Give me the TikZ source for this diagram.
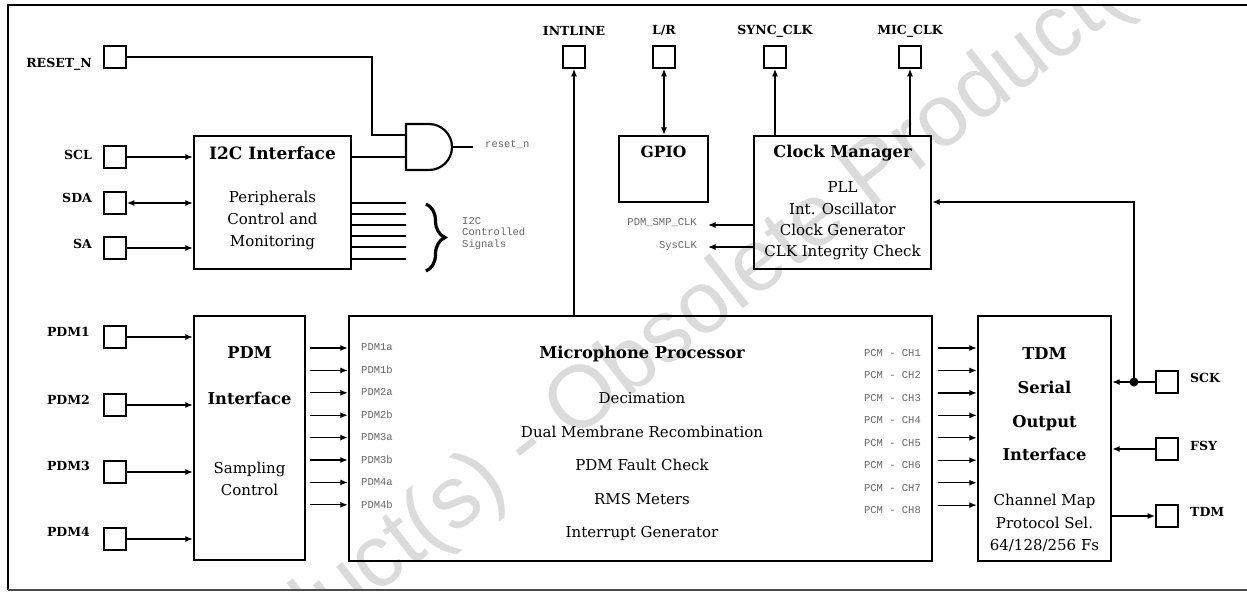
\documentclass[tikz,border=0pt]{standalone}
\usepackage{fontspec}
\setmainfont{DejaVu Serif}
\setmonofont{Liberation Mono}
\setsansfont{Liberation Sans}
\usetikzlibrary{arrows.meta,decorations.pathreplacing}
\newcommand\myfs[2]{\fontsize{#1}{#2}\selectfont}
\begin{document}
\begin{tikzpicture}[x=1pt,y=-1pt,
  box/.style={draw,line width=2.4pt,inner sep=0pt},
  pin/.style={draw,line width=2.2pt,minimum size=21.5pt,inner sep=0pt},
  conn/.style={line width=1.3pt},
  arr/.style={conn,-{Latex[length=7.5pt,width=6pt]}},
  darr/.style={conn,{Latex[length=7.5pt,width=6pt]}-{Latex[length=7.5pt,width=6pt]}},
  plab/.style={font=\bfseries\myfs{12.5}{14}, inner sep=0pt},
  ttl/.style={font=\bfseries\myfs{16.3}{19}, inner sep=0pt},
  bdy/.style={inner sep=0pt, align=center},
  mono/.style={font=\ttfamily\myfs{10.5}{11.5}, text=black!60, inner sep=0pt},
]
\useasboundingbox (0,0) rectangle (1247,592);
% watermark
\begin{scope}
\clip (8,5) rectangle (1247,590);
\node[rotate=38, text=black!14, font=\sffamily\myfs{88}{90}, inner sep=0pt] (wm) at (676,332) {Product(s) - Obsolete Product(s)};
\end{scope}
% frame
\draw[line width=2.6pt] (1250,5) -- (8,5) -- (8,590);
\draw[line width=1.8pt, black!70] (8,590) -- (1250,590);

% boxes
\node[box, minimum width=157, minimum height=133] (i2c) at (272.5,202.5) {};
\node[box, minimum width=89, minimum height=66] (gpio) at (663.5,169) {};
\node[box, minimum width=177, minimum height=133] (clk) at (842.5,202.5) {};
\node[box, minimum width=111, minimum height=244] (pdmif) at (249.5,438) {};
\node[box, minimum width=583, minimum height=245] (mic) at (640.5,438.5) {};
\node[box, minimum width=133, minimum height=245] (tdmif) at (1044.5,438.5) {};

% box texts
\node[ttl, font=\bfseries\myfs{17}{19}] (i2ct) at (272.5,153) {I2C Interface};
\node[bdy, font=\myfs{15}{22}] (i2cb) at (272.5,220) {Peripherals\\Control and\\Monitoring};
\node[ttl, font=\bfseries\myfs{15.5}{19}] (gpiot) at (663.5,152) {GPIO};
\node[ttl] (clkt) at (842.5,153) {Clock Manager};
\node[bdy, font=\myfs{15}{21.3}] (clkb) at (842.5,221) {PLL\\Int. Oscillator\\Clock Generator\\CLK Integrity Check};
\node[bdy, font=\bfseries\myfs{16.3}{46}] (pdmt) at (249.5,376) {PDM\\Interface};
\node[bdy, font=\myfs{15}{22}] (pdmb) at (249.5,479) {Sampling\\Control};
\node[ttl] (mict) at (642,354) {Microphone Processor};
\node[bdy, font=\myfs{15}{33.5}] (micb) at (642,467) {Decimation\\Dual Membrane Recombination\\PDM Fault Check\\RMS Meters\\Interrupt Generator};
\node[bdy, font=\bfseries\myfs{16.3}{33.7}] (tdmt) at (1044.5,404.5) {TDM\\Serial\\Output\\Interface};
\node[bdy, font=\myfs{15}{22.5}] (tdmb) at (1044.5,523) {Channel Map\\Protocol Sel.\\64/128/256 Fs};

% pins
\node[pin] (reset) at (115,57) {};
\node[pin] (scl) at (115,157) {};
\node[pin] (sda) at (115,203) {};
\node[pin] (sa) at (115,248) {};
\node[pin] (p1) at (115,337) {};
\node[pin] (p2) at (115,405) {};
\node[pin] (p3) at (115,472) {};
\node[pin] (p4) at (115,539) {};
\node[pin] (intline) at (574,57) {};
\node[pin] (lr) at (664,57) {};
\node[pin] (sync) at (775,57) {};
\node[pin] (micclk) at (910,57) {};
\node[pin] (sck) at (1167,382) {};
\node[pin] (fsy) at (1167,449) {};
\node[pin] (tdm) at (1167,516) {};

% pin labels
\node[plab, anchor=east] (resetl) at (92,64) {RESET\_N};
\node[plab, anchor=east] (scll) at (92,155) {SCL};
\node[plab, anchor=east] (sdal) at (92,198) {SDA};
\node[plab, anchor=east] (sal) at (92,244) {SA};
\node[plab, anchor=east] (p1l) at (90,332) {PDM1};
\node[plab, anchor=east] (p2l) at (90,400) {PDM2};
\node[plab, anchor=east] (p3l) at (90,466) {PDM3};
\node[plab, anchor=east] (p4l) at (90,532) {PDM4};
\node[plab] (intlinel) at (574,31) {INTLINE};
\node[plab] (lrl) at (664,31) {L/R};
\node[plab] (syncl) at (775,31) {SYNC\_CLK};
\node[plab] (micclkl) at (910,31) {MIC\_CLK};
\node[plab, anchor=west] (sckl) at (1190,378) {SCK};
\node[plab, anchor=west] (fsyl) at (1190,446) {FSY};
\node[plab, anchor=west] (tdml) at (1190,512) {TDM};

% I2C inputs
\draw[arr] (scl.east) -- (i2c.west |- scl);
\draw[darr] (sda.east) -- (i2c.west |- sda);
\draw[arr] (sa.east) -- (i2c.west |- sa);

% AND gate
\coordinate (gin1) at (406,135);
\coordinate (gin2) at (406,157);
\coordinate (gout) at (452,147);
\coordinate (gend) at (473,147);
\draw[line width=2.2pt] (406,124) -- (429,124) .. controls (441.7,124) and (452,134.3) .. (452,147) .. controls (452,159.7) and (441.7,170) .. (429,170) -- (406,170) -- cycle;
\draw[conn] (reset.east) -| (372,135) -- (gin1);
\draw[conn] (i2c.east |- gin2) -- (gin2);
\draw[conn] (gout) -- (gend);
\node[mono, anchor=west] (resetn) at (485,145) {reset\_n};

% I2C controlled signals
\foreach \y [count=\i] in {203,214,225,236,247,259} {
  \coordinate (s\i) at (406,\y);
  \draw[conn] (i2c.east |- s\i) -- (s\i);
}
\draw[decorate, decoration={brace, amplitude=19pt, aspect=0.5}, line width=3.2pt] (426,204) -- (426,271);
\node[mono, anchor=west, align=left] (i2cs) at (462,233.5) {I2C\\Controlled\\Signals};

% top pins
\draw[arr] (mic.north -| intline) -- (intline.south);
\draw[darr] (gpio.north -| lr) -- (lr.south);
\draw[arr] (clk.north -| sync) -- (sync.south);
\draw[arr] (clk.north -| micclk) -- (micclk.south);

% clock outputs
\coordinate (ck1) at (708,225);
\coordinate (ck2) at (708,247);
\draw[arr] (clk.west |- ck1) -- (ck1);
\draw[arr] (clk.west |- ck2) -- (ck2);
\node[mono, anchor=east] (ck1l) at (697,223) {PDM\_SMP\_CLK};
\node[mono, anchor=east] (ck2l) at (697,246) {SysCLK};

% SCK, FSY, TDM
\coordinate (j) at (1134,382);
\coordinate (jt) at (1134,202);
\fill (j) circle (4.5pt);
\draw[conn] (sck.west) -- (j);
\draw[arr] (j) -- (tdmif.east |- j);
\draw[arr] (j) -- (jt) -- (clk.east |- jt);
\draw[arr] (fsy.west) -- (tdmif.east |- fsy);
\draw[arr] (tdmif.east |- tdm) -- (tdm.west);

% PDM inputs
\foreach \p in {p1,p2,p3,p4} {
  \draw[arr] (\p.east) -- (pdmif.west |- \p);
}

% PDM to mic
\foreach \t [count=\i from 0] in {PDM1a,PDM1b,PDM2a,PDM2b,PDM3a,PDM3b,PDM4a,PDM4b} {
  \pgfmathsetmacro\yy{348+22.4*\i}
  \coordinate (pi\i) at (310,\yy);
  \draw[arr] (pi\i) -- (mic.west |- pi\i);
  \node[mono, anchor=west] (pl\i) at (361,\yy-0.5) {\t};
}

% mic to TDM
\foreach \i in {1,...,8} {
  \pgfmathsetmacro\yy{348+22.45*(\i-1)}
  \coordinate (po\i) at (938,\yy);
  \draw[arr] (po\i) -- (tdmif.west |- po\i);
  \node[mono, anchor=east] (pcl\i) at (921,\yy+5) {PCM - CH\i};
}
\end{tikzpicture}
\end{document}
